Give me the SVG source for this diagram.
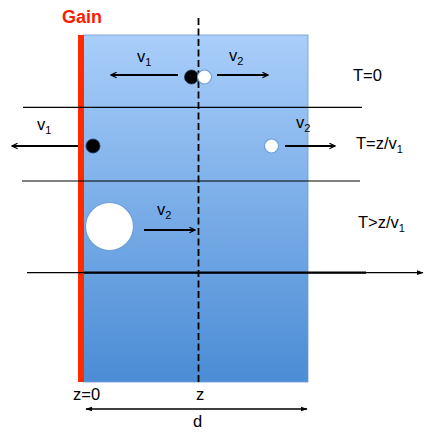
<svg xmlns="http://www.w3.org/2000/svg" width="436" height="435" viewBox="0 0 436 435">
<defs>
<linearGradient id="bg" x1="0" y1="0" x2="0" y2="1">
<stop offset="0" stop-color="#a9cefa"/>
<stop offset="1" stop-color="#4b8cd5"/>
</linearGradient>
<marker id="ah" viewBox="0 0 10 10" refX="9" refY="5" markerWidth="7" markerHeight="7" orient="auto-start-reverse" markerUnits="userSpaceOnUse">
<path d="M1,1 L9,5 L1,9" fill="none" stroke="#000" stroke-width="1.6"/>
</marker>
<marker id="ahs" viewBox="0 0 10 10" refX="9" refY="5" markerWidth="7" markerHeight="7" orient="auto-start-reverse" markerUnits="userSpaceOnUse">
<path d="M0,1.5 L10,5 L0,8.5 Z" fill="#000"/>
</marker>
</defs>
<style>
text{font-family:"Liberation Sans",Arial,sans-serif;font-size:16.5px;fill:#000}
.sub{font-size:11px}
.arr{stroke:#000;stroke-width:2;fill:none;marker-end:url(#ah)}
.hl{stroke:#000;stroke-width:1.2;fill:none}
.blk{fill:#000;stroke:#1a3a66;stroke-width:0.8}
.wht{fill:#fff;stroke:#6f9fd6;stroke-width:1.2}
</style>
<g id="slab">
<rect x="83" y="35" width="225" height="347" fill="url(#bg)" stroke="#6d9cd2" stroke-width="0.8"/>
</g>
<g id="gain">
<rect x="78" y="35" width="6" height="347" fill="#ff2a00"/>
<text x="82" y="23" text-anchor="middle" style="font-size:18px;font-weight:bold;fill:#ff1a00">Gain</text>
</g>
<g id="connectors">
<line x1="198.5" y1="18" x2="198.5" y2="382" stroke="#000" stroke-width="1.8" stroke-dasharray="7,3.5"/>
<line class="hl" x1="23" y1="107.3" x2="362" y2="107.3"/>
<line class="hl" x1="22" y1="181" x2="360" y2="181"/>
<line x1="27" y1="272.7" x2="423" y2="272.7" stroke="#000" stroke-width="1.2" marker-end="url(#ahs)"/>
<line x1="84" y1="272.7" x2="366" y2="272.7" stroke="#000" stroke-width="2.2"/>
<line class="arr" x1="178" y1="75" x2="111" y2="75"/>
<line class="arr" x1="217" y1="75" x2="268" y2="75"/>
<line class="arr" x1="78" y1="146" x2="12" y2="146"/>
<line class="arr" x1="285" y1="146" x2="335" y2="146"/>
<line class="arr" x1="144" y1="230" x2="195" y2="230"/>
<line x1="86" y1="409" x2="307" y2="409" stroke="#000" stroke-width="1.5" marker-start="url(#ahs)" marker-end="url(#ahs)"/>
</g>
<g id="particles">
<circle class="blk" cx="191.5" cy="77" r="7"/>
<circle class="wht" cx="204.5" cy="77" r="7"/>
<circle class="blk" cx="93" cy="146" r="7"/>
<circle class="wht" cx="271.5" cy="146" r="7"/>
<circle class="wht" cx="109.5" cy="226.5" r="24"/>
</g>
<g id="labels">
<text x="137" y="62">v<tspan class="sub" dy="4">1</tspan></text>
<text x="229" y="61">v<tspan class="sub" dy="4">2</tspan></text>
<text x="37" y="130">v<tspan class="sub" dy="4">1</tspan></text>
<text x="296" y="128">v<tspan class="sub" dy="4">2</tspan></text>
<text x="157" y="215">v<tspan class="sub" dy="4">2</tspan></text>
<text x="353" y="81">T=0</text>
<text x="356" y="149">T=z/v<tspan class="sub" dy="4">1</tspan></text>
<text x="358" y="228">T&gt;z/v<tspan class="sub" dy="4">1</tspan></text>
<text x="73" y="400">z=0</text>
<text x="196" y="400">z</text>
<text x="193" y="427">d</text>
</g>
</svg>
